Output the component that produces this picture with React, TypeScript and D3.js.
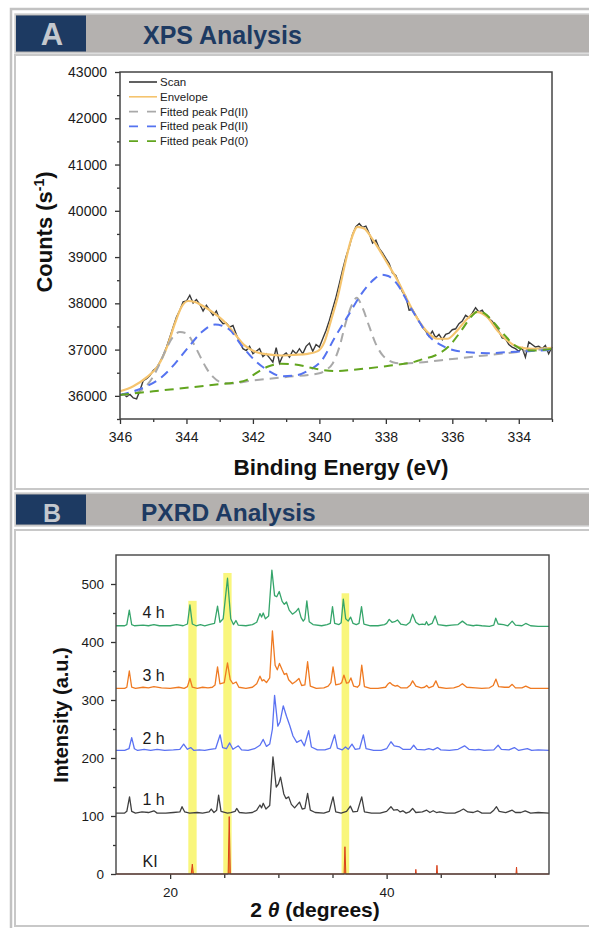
import React, { useRef, useEffect } from "react";
import * as d3 from "d3";

// ---------- Panel A : XPS ----------
const scanStart = 346;
const scanStep = 0.1;
// raw scan, one value every 0.1 eV from 346.0 down to 333.0
const scanCounts = [
  36010, 36040, 35985, 36030, 35955, 35935, 36115, 36330, 36370, 36440,
  36550, 36605, 36730, 36875, 37055, 37270, 37490, 37705, 37850, 38030,
  38050, 38175, 38005, 38080, 37980, 37835, 37955, 37850, 37740, 37835,
  37645, 37560, 37575, 37485, 37520, 37325, 37160, 37020, 36980, 37070,
  36910, 36965, 37020, 36850, 36910, 36820, 36730, 37040, 36705, 36875,
  36925, 36835, 36980, 36910, 37020, 36910, 37070, 37140, 36965, 37110,
  37055, 37235, 37415, 37630, 37885, 38135, 38425, 38730, 39005, 39220,
  39495, 39655, 39725, 39640, 39670, 39510, 39305, 39365, 39185, 39090,
  38970, 38860, 38657, 38605, 38425, 38245, 38150, 37850, 37865, 37740,
  37615, 37485, 37400, 37285, 37400, 37255, 37330, 37215, 37330, 37355,
  37430, 37450, 37560, 37615, 37740, 37690, 37790, 37905, 37815, 37850,
  37740, 37670, 37615, 37500, 37400, 37255, 37235, 37110, 37055, 37020,
  36965, 37040, 36835, 37165, 37110, 37055, 37070, 37020, 37090, 36910,
  37055,
];

const envelopeEnergy = [
  346.0, 345.6, 345.2, 344.85, 344.55, 344.35, 344.15, 343.95, 343.75, 343.45,
  343.15, 342.85, 342.55, 342.25, 341.95, 341.55, 341.15, 340.75, 340.35, 340.05,
  339.85, 339.65, 339.45, 339.25, 339.05, 338.85, 338.65, 338.45, 338.25, 337.95,
  337.65, 337.35, 337.05, 336.75, 336.45, 336.15, 335.85, 335.55, 335.25, 334.95,
  334.65, 334.35, 334.0, 333.6, 333.0,
];
const envelopeCounts = [
  36100, 36210, 36400, 36656, 37126, 37559, 37920, 38050, 38029, 37920,
  37776, 37595, 37343, 37090, 36960, 36895, 36873, 36887, 36909, 36967,
  37162, 37631, 38137, 38787, 39365, 39654, 39618, 39437, 39221, 38860,
  38498, 38065, 37668, 37379, 37234, 37234, 37415, 37668, 37812, 37704,
  37415, 37198, 37054, 37017, 37040,
];

const grayEnergy = [
  346.0, 345.5, 345.2, 345.0, 344.8, 344.6, 344.4, 344.2, 344.0, 343.8,
  343.6, 343.4, 343.2, 343.0, 342.7, 342.0, 341.0, 340.0, 339.8, 339.6,
  339.4, 339.2, 339.0, 338.88, 338.7, 338.5, 338.3, 338.1, 337.9, 337.7,
  337.4, 337.0, 336.0, 335.0, 334.0, 333.0,
];
const grayCounts = [
  36020, 36070, 36220, 36420, 36700, 37030, 37280, 37378, 37350, 37150,
  36870, 36600, 36410, 36305, 36270, 36331, 36408, 36490, 36560, 36700,
  37050, 37600, 38000, 38120, 37900, 37500, 37120, 36880, 36760, 36710,
  36700, 36720, 36797, 36875, 36952, 37030,
];

const blueEnergy = [
  346.0, 345.5, 345.15, 344.75, 344.35, 343.94, 343.54, 343.14, 342.74, 342.34,
  341.94, 341.54, 341.14, 340.73, 340.33, 339.93, 339.53, 339.13, 338.73, 338.33,
  338.13, 337.93, 337.63, 337.32, 337.02, 336.72, 336.32, 335.92, 335.52, 334.92,
  334.32, 333.71, 333.0,
];
const blueCounts = [
  36020, 36120, 36223, 36403, 36693, 37054, 37379, 37540, 37451, 37090,
  36765, 36548, 36425, 36440, 36548, 36765, 37270, 37740, 38209, 38534,
  38620, 38590, 38390, 37993, 37631, 37306, 37090, 36981, 36945, 36923,
  36945, 36967, 36995,
];

const greenEnergy = [
  346.0, 345.0, 344.0, 343.0, 342.5, 342.2, 341.94, 341.54, 341.14, 340.73,
  340.33, 339.93, 339.5, 339.0, 338.0, 337.4, 337.12, 336.9, 336.52, 336.12,
  335.72, 335.42, 335.22, 335.02, 334.72, 334.42, 334.12, 333.82, 333.52, 333.0,
];
const greenCounts = [
  36020, 36098, 36175, 36253, 36292, 36340, 36475, 36634, 36693, 36678,
  36620, 36562, 36535, 36564, 36642, 36700, 36740, 36790, 36873, 37060,
  37420, 37720, 37830, 37776, 37559, 37306, 37090, 36996, 36981, 37017,
];

const xpsLegend = ["Scan", "Envelope", "Fitted peak Pd(II)", "Fitted peak Pd(II)", "Fitted peak Pd(0)"];
const xpsMajorX = [346, 344, 342, 340, 338, 336, 334];
const xpsMinorX = [345, 343, 341, 339, 337, 335, 333];
const xpsMajorY = [36000, 37000, 38000, 39000, 40000, 41000, 42000, 43000];
const xpsMinorY = [35500, 36500, 37500, 38500, 39500, 40500, 41500, 42500];

// ---------- Panel B : PXRD ----------
const pxrdKI = [
  [15, 0], [21.95, 0], [22.05, 17], [22.15, 0], [25.36, 0], [25.46, 99], [25.56, 0],
  [36.07, 0], [36.15, 47], [36.23, 0], [42.66, 0], [42.7, 8], [42.74, 0],
  [44.6, 0], [44.65, 15], [44.7, 0], [51.95, 0], [52.0, 12], [52.05, 0], [55, 0],
];
const pxrd1h = [
  [15.0, 105], [15.8, 105], [16.0, 108], [16.25, 133], [16.45, 108], [16.8, 105], [17.4, 107],
  [18.0, 106], [18.5, 109], [18.8, 105], [19.6, 105], [20.3, 106], [20.9, 107], [21.1, 116],
  [21.35, 107], [21.8, 105], [22.5, 106], [23.0, 105], [23.6, 107], [23.8, 112], [24.05, 106],
  [24.3, 110], [24.48, 136], [24.7, 108], [25.3, 105], [25.6, 106], [26.0, 108], [26.15, 113],
  [26.4, 106], [27.0, 105], [27.6, 106], [28.0, 110], [28.3, 119], [28.45, 114], [28.6, 122],
  [28.85, 112], [29.2, 118], [29.5, 202], [29.8, 150], [30.0, 155], [30.2, 167], [30.5, 138],
  [30.7, 130], [30.95, 133], [31.2, 120], [31.5, 114], [31.95, 124], [32.2, 112], [32.45, 113],
  [32.7, 139], [32.95, 110], [33.4, 106], [34.2, 105], [34.7, 108], [35.05, 133], [35.3, 107],
  [35.8, 105], [36.3, 108], [36.65, 117], [36.9, 107], [37.3, 108], [37.7, 133], [37.95, 107],
  [38.6, 105], [39.4, 105], [40.0, 108], [40.4, 116], [40.65, 110], [41.0, 111], [41.25, 107],
  [41.5, 109], [41.8, 105], [42.1, 107], [42.4, 113], [42.7, 106], [43.3, 107], [43.7, 110],
  [44.0, 106], [44.3, 109], [44.6, 106], [44.9, 107], [45.5, 105], [46.3, 105], [46.8, 109],
  [47.1, 112], [47.5, 107], [48.0, 106], [48.4, 109], [48.8, 105], [49.6, 105], [49.9, 110],
  [50.15, 116], [50.4, 108], [51.0, 106], [51.6, 110], [51.9, 106], [52.4, 106], [52.8, 109],
  [53.3, 105], [54.0, 106], [55.0, 105],
];
const pxrd2h = [
  [15.0, 213], [15.8, 213], [16.2, 216], [16.45, 235], [16.7, 216], [17.0, 213], [17.6, 215],
  [18.2, 213], [18.8, 215], [19.5, 213], [20.3, 214], [20.9, 215], [21.25, 224], [21.6, 215],
  [21.9, 218], [22.2, 213], [22.7, 214], [23.2, 213], [23.7, 215], [24.2, 216], [24.62, 240],
  [24.85, 218], [25.2, 216], [25.5, 226], [25.8, 215], [26.3, 221], [26.6, 214], [27.2, 213],
  [27.8, 216], [28.3, 222], [28.6, 232], [28.9, 220], [29.2, 224], [29.45, 250], [29.65, 308],
  [29.95, 255], [30.15, 262], [30.45, 290], [30.75, 272], [31.05, 256], [31.35, 238], [31.7, 227],
  [32.1, 231], [32.4, 221], [32.8, 247], [33.05, 219], [33.6, 214], [34.3, 214], [34.8, 217],
  [35.2, 240], [35.45, 217], [35.9, 214], [36.2, 219], [36.45, 215], [36.8, 224], [37.1, 215],
  [37.5, 216], [37.85, 240], [38.1, 216], [38.8, 213], [39.5, 213], [40.0, 216], [40.4, 228],
  [40.7, 221], [41.2, 219], [41.5, 215], [42.2, 215], [42.5, 222], [42.8, 215], [43.5, 214],
  [43.9, 216], [44.3, 214], [44.7, 218], [45.0, 214], [45.8, 213], [46.6, 215], [47.2, 221],
  [47.6, 215], [48.2, 214], [48.5, 215], [49.0, 213], [49.9, 214], [50.3, 222], [50.6, 215],
  [51.3, 214], [51.8, 218], [52.2, 213], [53.0, 216], [53.4, 213], [54.0, 214], [55.0, 213],
];
const pxrd3h = [
  [15.0, 320], [15.8, 320], [16.0, 322], [16.23, 350], [16.45, 322], [16.8, 320], [17.5, 322],
  [18.0, 321], [18.5, 323], [19.2, 321], [20.0, 320], [20.8, 322], [21.3, 320], [21.6, 323],
  [21.83, 337], [22.05, 322], [22.5, 320], [23.0, 322], [23.5, 321], [23.9, 322], [24.15, 326],
  [24.38, 357], [24.6, 328], [25.0, 330], [25.3, 364], [25.55, 335], [25.8, 328], [26.1, 331],
  [26.35, 322], [27.0, 320], [27.6, 322], [28.0, 328], [28.3, 341], [28.5, 333], [28.65, 335],
  [28.9, 330], [29.2, 338], [29.45, 419], [29.7, 360], [29.9, 352], [30.1, 363], [30.35, 352],
  [30.55, 344], [30.75, 346], [30.95, 335], [31.3, 328], [31.6, 332], [31.9, 337], [32.15, 325],
  [32.45, 326], [32.7, 366], [32.95, 324], [33.5, 320], [34.2, 321], [34.6, 324], [34.85, 330],
  [35.05, 357], [35.3, 326], [35.7, 328], [35.85, 330], [36.05, 343], [36.3, 329], [36.5, 330],
  [36.7, 338], [36.95, 324], [37.3, 322], [37.5, 326], [37.7, 360], [37.95, 323], [38.5, 320],
  [39.2, 320], [39.9, 322], [40.1, 327], [40.3, 330], [40.55, 326], [40.8, 324], [41.0, 325],
  [41.3, 321], [41.9, 321], [42.2, 326], [42.4, 333], [42.7, 324], [43.2, 321], [43.5, 322],
  [43.7, 325], [43.9, 321], [44.3, 324], [44.55, 333], [44.8, 322], [45.5, 320], [46.2, 321],
  [46.7, 324], [47.0, 328], [47.4, 322], [48.2, 321], [48.8, 320], [49.5, 321], [49.85, 325],
  [50.1, 336], [50.35, 323], [50.9, 322], [51.3, 322], [51.6, 327], [51.9, 321], [52.5, 321],
  [52.85, 324], [53.3, 320], [54.0, 320], [55.0, 320],
];
const pxrd4h = [
  [15.0, 428], [15.8, 428], [16.0, 430], [16.23, 455], [16.45, 430], [16.7, 428], [17.5, 429],
  [18.0, 428], [18.5, 430], [19.0, 428], [20.0, 428], [20.6, 430], [21.2, 428], [21.6, 431],
  [21.83, 464], [22.05, 431], [22.4, 428], [22.8, 430], [23.2, 428], [23.6, 430], [24.1, 432],
  [24.38, 462], [24.6, 434], [24.9, 440], [25.3, 510], [25.6, 440], [25.85, 430], [26.08, 437],
  [26.3, 429], [27.0, 428], [27.6, 430], [28.0, 434], [28.3, 449], [28.45, 443], [28.6, 450],
  [28.8, 440], [29.1, 445], [29.4, 524], [29.65, 480], [29.85, 478], [30.08, 487], [30.35, 470],
  [30.55, 465], [30.75, 469], [31.0, 455], [31.3, 448], [31.6, 452], [31.86, 458], [32.1, 442],
  [32.3, 436], [32.45, 440], [32.63, 471], [32.85, 435], [33.2, 430], [34.0, 428], [34.5, 430],
  [34.8, 432], [35.0, 461], [35.2, 432], [35.6, 430], [35.8, 433], [36.0, 474], [36.22, 440],
  [36.45, 436], [36.67, 443], [36.9, 432], [37.2, 430], [37.45, 432], [37.68, 461], [37.9, 431],
  [38.5, 428], [39.2, 428], [39.8, 430], [40.0, 432], [40.24, 439], [40.5, 434], [40.75, 435],
  [41.0, 438], [41.3, 431], [41.8, 429], [42.15, 434], [42.4, 448], [42.7, 434], [43.0, 430],
  [43.3, 431], [43.55, 430], [43.68, 435], [43.85, 429], [44.2, 432], [44.48, 445], [44.75, 430],
  [45.5, 428], [46.0, 429], [46.6, 430], [47.0, 436], [47.4, 430], [48.0, 428], [48.3, 429],
  [48.8, 428], [49.5, 427], [49.9, 429], [50.08, 441], [50.3, 431], [50.8, 430], [51.2, 428],
  [51.6, 436], [51.9, 429], [52.5, 428], [52.85, 432], [53.3, 428], [54.0, 427], [55.0, 427],
];
const pxrdNames = ["KI", "1 h", "2 h", "3 h", "4 h"];
const pxrdLabelLevel = [12, 119, 224, 333, 441];
const bandStart = [21.68, 24.91, 35.84];
const bandEnd = [22.45, 25.68, 36.54];
const bandTop = [471, 519, 484];
const pxrdMajorY = [0, 100, 200, 300, 400, 500];
const pxrdMinorY = [50, 150, 250, 350, 450];
const pxrdMajorX = [20, 40];
const pxrdMinorX = [25, 30, 35, 45, 50];

const FONT = "'Liberation Sans', Arial, Helvetica, sans-serif";

const App = () => {
  const svgRef = useRef<SVGSVGElement>(null);

  useEffect(() => {
    const svg = d3.select(svgRef.current);
    svg.selectAll("*").remove();
    svg.style("font-family", FONT);

    // ---- page frame and headers ----
    svg.append("rect").attr("width", 589).attr("height", 928).attr("fill", "#fff");
    svg.append("rect").attr("x", 11).attr("y", 9).attr("width", 620).attr("height", 960)
      .attr("fill", "none").attr("stroke", "#c2c2c2").attr("stroke-width", 2.5);

    const header = (y: number, h: number, letter: string, title: string, letterSize: number, titleSize: number, titleX: number, base: number) => {
      svg.append("rect").attr("x", 15).attr("y", y).attr("width", 600).attr("height", h)
        .attr("fill", "#b4b1af").attr("stroke", "#d2d2d2").attr("stroke-width", 1.5);
      svg.append("rect").attr("x", 16).attr("y", y + 1.5).attr("width", 70).attr("height", h - 3)
        .attr("fill", "#1d3a62");
      svg.append("text").attr("x", 52).attr("y", base).attr("text-anchor", "middle")
        .attr("font-size", letterSize).attr("font-weight", "bold").attr("fill", "#c4c8ce").text(letter);
      svg.append("text").attr("x", titleX).attr("y", base - 1).attr("font-size", titleSize)
        .attr("font-weight", "bold").attr("fill", "#1d3a62").text(title);
    };
    header(14, 39, "A", "XPS Analysis", 31, 25, 143, 45);
    svg.append("rect").attr("x", 15).attr("y", 55).attr("width", 600).attr("height", 434)
      .attr("fill", "#fff").attr("stroke", "#c8c8c8").attr("stroke-width", 2);
    header(493, 33, "B", "PXRD Analysis", 25, 24.5, 141, 522);
    svg.append("rect").attr("x", 15).attr("y", 530).attr("width", 600).attr("height", 396)
      .attr("fill", "#fff").attr("stroke", "#c8c8c8").attr("stroke-width", 2);

    // ---- XPS ----
    const xA = d3.scaleLinear().domain([346, 333]).range([120, 552]);
    const yA = d3.scaleLinear().domain([35500, 43000]).range([419, 72]);
    const gA = svg.append("g");

    const axisStyle = (g: any, size: number) => {
      g.select(".domain").remove();
      g.selectAll(".tick line").attr("stroke", "#333").attr("stroke-width", 1.3);
      g.selectAll("text").attr("fill", "#1a1a1a").attr("font-size", size).attr("font-family", FONT);
    };

    gA.append("g").attr("transform", "translate(0,419)")
      .call(d3.axisBottom(xA).tickValues(xpsMinorX).tickSize(3).tickFormat(() => ""))
      .call((g: any) => axisStyle(g, 14));
    gA.append("g").attr("transform", "translate(0,419)")
      .call(d3.axisBottom(xA).tickValues(xpsMajorX).tickSize(5).tickPadding(8).tickFormat(d3.format("d")))
      .call((g: any) => axisStyle(g, 14));
    gA.append("g").attr("transform", "translate(120,0)")
      .call(d3.axisLeft(yA).tickValues(xpsMinorY).tickSize(3).tickFormat(() => ""))
      .call((g: any) => axisStyle(g, 14));
    gA.append("g").attr("transform", "translate(120,0)")
      .call(d3.axisLeft(yA).tickValues(xpsMajorY).tickSize(5).tickPadding(8).tickFormat(d3.format("d")))
      .call((g: any) => axisStyle(g, 14));

    const lineA = (curve: any) =>
      d3.line<[number, number]>().x((d) => xA(d[0])).y((d) => yA(d[1])).curve(curve);
    const zip = (e: number[], c: number[]) => e.map((v, i) => [v, c[i]] as [number, number]);

    const scanData = scanCounts.map((c, i) => [scanStart - i * scanStep, c] as [number, number]);
    gA.append("path").attr("d", lineA(d3.curveLinear)(scanData)!)
      .attr("fill", "none").attr("stroke", "#3a3a3a").attr("stroke-width", 1.4);
    gA.append("path").attr("d", lineA(d3.curveMonotoneX)(zip(envelopeEnergy, envelopeCounts))!)
      .attr("fill", "none").attr("stroke", "#f5c46e").attr("stroke-width", 2.2);

    const comps = [
      { e: grayEnergy, c: grayCounts, color: "#a9a9a9" },
      { e: blueEnergy, c: blueCounts, color: "#5573f0" },
      { e: greenEnergy, c: greenCounts, color: "#62a51f" },
    ];
    comps.forEach((k) => {
      gA.append("path").attr("d", lineA(d3.curveMonotoneX)(zip(k.e, k.c))!)
        .attr("fill", "none").attr("stroke", k.color).attr("stroke-width", 2)
        .attr("stroke-dasharray", "9,6");
    });

    gA.append("rect").attr("x", 120).attr("y", 72).attr("width", 432).attr("height", 347)
      .attr("fill", "none").attr("stroke", "#444").attr("stroke-width", 1.5);

    // legend
    const legendColors = ["#3a3a3a", "#f5c46e", "#a9a9a9", "#5573f0", "#62a51f"];
    xpsLegend.forEach((name, i) => {
      const y = 82 + i * 14.8;
      gA.append("line").attr("x1", 129).attr("x2", 157).attr("y1", y).attr("y2", y)
        .attr("stroke", legendColors[i]).attr("stroke-width", i < 2 ? 1.6 : 1.8)
        .attr("stroke-dasharray", i < 2 ? null : "9,9");
      gA.append("text").attr("x", 160).attr("y", y + 4).attr("font-size", 11.5)
        .attr("fill", "#222").text(name);
    });

    const yLab = gA.append("text").attr("transform", "translate(52,232) rotate(-90)")
      .attr("text-anchor", "middle").attr("font-size", 22).attr("font-weight", "bold").attr("fill", "#111");
    yLab.append("tspan").text("Counts (s");
    yLab.append("tspan").attr("font-size", 14).attr("dy", -8).text("-1");
    yLab.append("tspan").attr("dy", 8).text(")");
    gA.append("text").attr("x", 341).attr("y", 475).attr("text-anchor", "middle")
      .attr("font-size", 22.5).attr("font-weight", "bold").attr("fill", "#111").text("Binding Energy (eV)");

    // ---- PXRD ----
    const xB = d3.scaleLinear().domain([15, 55]).range([116, 549]);
    const yB = d3.scaleLinear().domain([0, 550]).range([874, 555]);
    const gB = svg.append("g");

    bandStart.forEach((s, i) => {
      gB.append("rect").attr("x", xB(s)).attr("y", yB(bandTop[i]))
        .attr("width", xB(bandEnd[i]) - xB(s)).attr("height", yB(0) - yB(bandTop[i]))
        .attr("fill", "#f9f67c");
    });

    gB.append("g").attr("transform", "translate(0,874)")
      .call(d3.axisBottom(xB).tickValues(pxrdMinorX).tickSize(4).tickFormat(() => ""))
      .call((g: any) => axisStyle(g, 13.5));
    gB.append("g").attr("transform", "translate(0,874)")
      .call(d3.axisBottom(xB).tickValues(pxrdMajorX).tickSize(5).tickPadding(8).tickFormat(d3.format("d")))
      .call((g: any) => axisStyle(g, 13.5));
    gB.append("g").attr("transform", "translate(116,0)")
      .call(d3.axisLeft(yB).tickValues(pxrdMinorY).tickSize(3).tickFormat(() => ""))
      .call((g: any) => axisStyle(g, 13.5));
    gB.append("g").attr("transform", "translate(116,0)")
      .call(d3.axisLeft(yB).tickValues(pxrdMajorY).tickSize(5).tickPadding(7).tickFormat(d3.format("d")))
      .call((g: any) => axisStyle(g, 13.5));

    const lineB = d3.line<number[]>().x((d) => xB(d[0])).y((d) => yB(d[1]));
    const areaB = d3.area<number[]>().x((d) => xB(d[0])).y0(yB(0)).y1((d) => yB(d[1]));

    gB.append("path").attr("d", areaB(pxrdKI)!).attr("fill", "#f2901c");
    const series = [
      { data: pxrdKI, color: "#d8401c", width: 1 },
      { data: pxrd1h, color: "#404040", width: 1.3 },
      { data: pxrd2h, color: "#5b72f2", width: 1.3 },
      { data: pxrd3h, color: "#ef7a22", width: 1.3 },
      { data: pxrd4h, color: "#36a56b", width: 1.3 },
    ];
    series.forEach((s) => {
      gB.append("path").attr("d", lineB(s.data)!).attr("fill", "none")
        .attr("stroke", s.color).attr("stroke-width", s.width).attr("stroke-linejoin", "round");
    });

    pxrdNames.forEach((n, i) => {
      gB.append("text").attr("x", xB(17.45)).attr("y", yB(pxrdLabelLevel[i]))
        .attr("font-size", 16).attr("fill", "#1a1a1a").text(n);
    });

    gB.append("rect").attr("x", 116).attr("y", 555).attr("width", 433).attr("height", 319)
      .attr("fill", "none").attr("stroke", "#444").attr("stroke-width", 1.4);

    gB.append("text").attr("transform", "translate(68,715) rotate(-90)")
      .attr("text-anchor", "middle").attr("font-size", 20).attr("font-weight", "bold")
      .attr("fill", "#111").text("Intensity (a.u.)");
    const xLab = gB.append("text").attr("x", 315).attr("y", 917).attr("text-anchor", "middle")
      .attr("font-size", 21).attr("font-weight", "bold").attr("fill", "#111");
    xLab.append("tspan").text("2 ");
    xLab.append("tspan").attr("font-style", "italic").text("θ");
    xLab.append("tspan").text(" (degrees)");
  }, []);

  return (
    <svg ref={svgRef} width={589} height={928}
      style={{ position: "absolute", left: 0, top: 0, display: "block" }} />
  );
};

export default App;
